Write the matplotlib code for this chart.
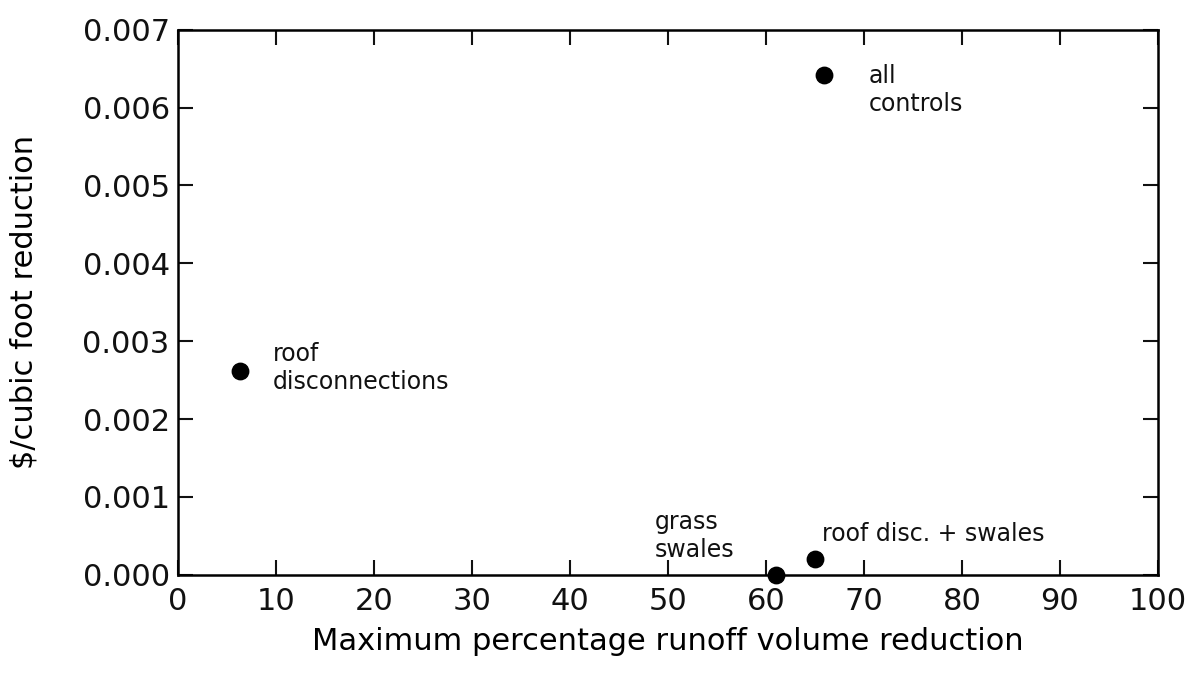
import numpy as np
import matplotlib
matplotlib.use('Agg')
import matplotlib.pyplot as plt

# data
labels = ['roof\ndisconnections', 'all\ncontrols', 'grass\nswales', 'roof disc. + swales']
pct_reduction = [6.3, 65.9, 61.0, 65.0]
cost_per_cf = [0.00262, 0.00642, 0.0, 0.00020]
label_offsets = [(24, 2), (32, -11), (-87, 28), (5, 18)]

xticks = np.arange(0, 101, 10)
yticks = np.arange(0, 0.0071, 0.001)

plt.rcParams['font.family'] = ['DejaVu Sans']

fig = plt.figure(figsize=(11.95, 6.77), dpi=100)
ax = fig.add_axes([0.149, 0.151, 0.820, 0.805])

ax.scatter(pct_reduction, cost_per_cf, s=140, color='black', zorder=3, clip_on=False)
for lab, x, y, off in zip(labels, pct_reduction, cost_per_cf, label_offsets):
    ax.annotate(lab, (x, y), xytext=off, textcoords='offset points',
                fontsize=17, va='center', ha='left', linespacing=1.2, color='#111111')

ax.set_xlim(0, 100)
ax.set_ylim(0, 0.007)
ax.set_xticks(xticks)
ax.set_yticks(yticks)
ax.set_yticklabels(['%.3f' % v for v in yticks])
ax.tick_params(direction='in', length=11, width=1.5, labelsize=22, pad=6,
               top=True, right=True, colors='#111111')
ax.tick_params(axis='x', pad=9)
for sp in ax.spines.values():
    sp.set_linewidth(1.8)

ax.set_xlabel('Maximum percentage runoff volume reduction', fontsize=22, labelpad=8)
ax.set_ylabel('$/cubic foot reduction', fontsize=22, labelpad=32)

fig.savefig('out.png', dpi=100)
